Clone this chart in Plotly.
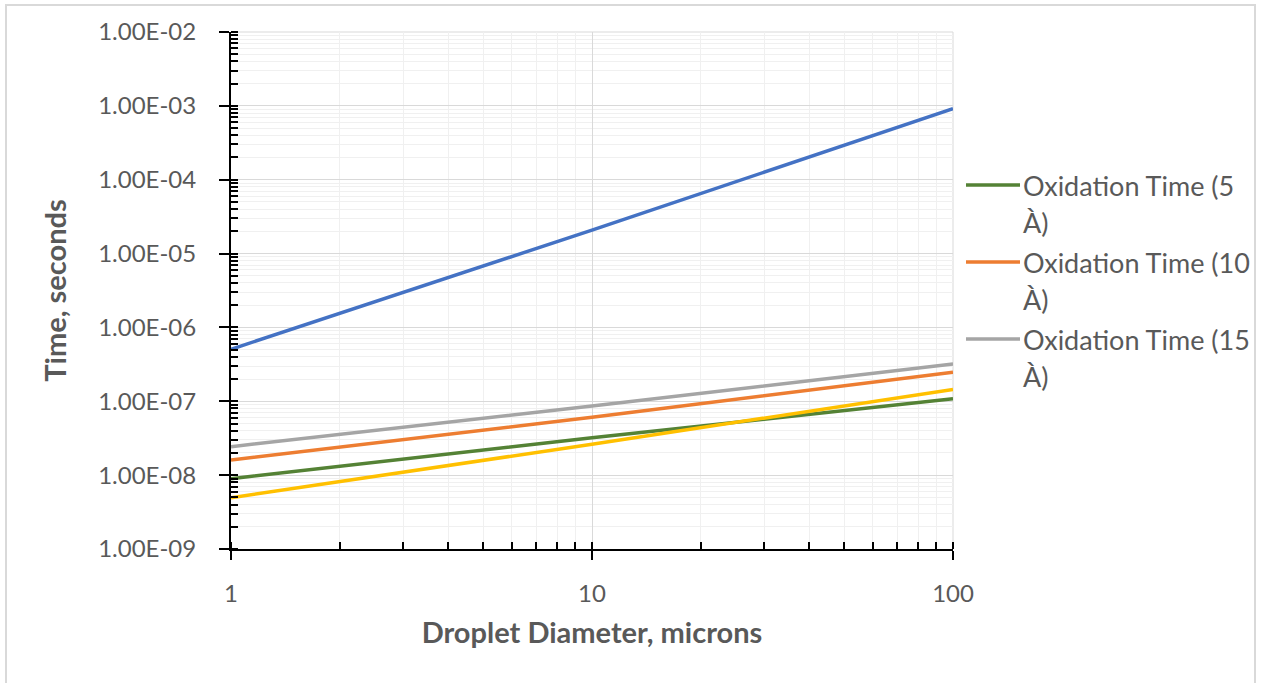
import plotly.graph_objects as go

# ---- data ----
diameter = [1, 10, 100]
blue_series = [5.06e-7, 2.08e-5, 9.16e-4]
ox_5A = [8.95e-9, 3.21e-8, 1.08e-7]
ox_10A = [1.60e-8, 6.07e-8, 2.47e-7]
ox_15A = [2.43e-8, 8.63e-8, 3.20e-7]
yellow_series = [4.95e-9, 2.62e-8, 1.45e-7]

y_tickvals = [1e-9, 1e-8, 1e-7, 1e-6, 1e-5, 1e-4, 1e-3, 1e-2]
y_ticktext = ["1.00E-09", "1.00E-08", "1.00E-07", "1.00E-06",
              "1.00E-05", "1.00E-04", "1.00E-03", "1.00E-02"]
x_tickvals = [1, 10, 100]
x_ticktext = ["1", "10", "100"]

legend_names = ["Oxidation Time (5", "Oxidation Time (10", "Oxidation Time (15"]
legend_second = ["À)", "À)", "À)"]

# ---- styles ----
BLUE = "#4472C4"
ORANGE = "#ED7D31"
GRAY = "#A5A5A5"
YELLOW = "#FFC000"
GREEN = "#548235"
TXT = "#595959"
FONT = "Lato"

fig = go.Figure()
series = [
    (blue_series, BLUE, None),
    (ox_15A, GRAY, "Oxidation Time (15 À)"),
    (ox_10A, ORANGE, "Oxidation Time (10 À)"),
    (ox_5A, GREEN, "Oxidation Time (5 À)"),
    (yellow_series, YELLOW, None),
]
for ys, col, name in series:
    fig.add_trace(go.Scatter(x=diameter, y=ys, mode="lines",
                             line=dict(color=col, width=3.5),
                             name=name or "", showlegend=False))

W, H = 1261, 683
L, R, T, B = 231, 953, 32, 549
pw, ph = R - L, B - T

def px_x(p):
    return (p - L) / pw

def px_y(p):
    return (B - p) / ph

# manual legend (Excel-style wrapped text)
leg_cols = [GREEN, ORANGE, GRAY]
leg_rows = [185, 262, 339]
shapes = []
annotations = []
for col, row, t1, t2 in zip(leg_cols, leg_rows, legend_names, legend_second):
    shapes.append(dict(type="line", xref="paper", yref="paper",
                       x0=px_x(966), x1=px_x(1020), y0=px_y(row), y1=px_y(row),
                       line=dict(color=col, width=3.5)))
    annotations.append(dict(xref="paper", yref="paper", x=px_x(1021), y=px_y(row),
                            xanchor="left", yanchor="middle", showarrow=False,
                            text=t1, font=dict(family=FONT, size=27, color=TXT)))
    annotations.append(dict(xref="paper", yref="paper", x=px_x(1021), y=px_y(row + 37),
                            xanchor="left", yanchor="middle", showarrow=False,
                            text=t2, font=dict(family=FONT, size=27, color=TXT)))

# outer chart border
shapes.append(dict(type="rect", xref="paper", yref="paper",
                   x0=px_x(6), x1=px_x(1255), y0=px_y(700), y1=px_y(5),
                   line=dict(color="#D9D9D9", width=2), layer="below"))
# right/top plot edge gridlines
shapes.append(dict(type="line", xref="paper", yref="paper", x0=1, x1=1, y0=0, y1=1,
                   line=dict(color="#D9D9D9", width=1), layer="below"))
shapes.append(dict(type="line", xref="paper", yref="paper", x0=0, x1=1, y0=1, y1=1,
                   line=dict(color="#D9D9D9", width=1), layer="below"))

fig.update_layout(
    width=W, height=H,
    margin=dict(l=L, r=W - R, t=T, b=H - B, pad=0),
    paper_bgcolor="white", plot_bgcolor="white",
    font=dict(family=FONT, color=TXT),
    shapes=shapes, annotations=annotations,
    showlegend=False,
)

fig.update_xaxes(
    type="log", range=[0, 2],
    tickmode="array", tickvals=x_tickvals, ticktext=x_ticktext,
    tickfont=dict(family=FONT, size=24, color=TXT),
    ticks="outside", ticklen=9, tickwidth=2, tickcolor="black",
    ticklabelstandoff=13,
    showline=True, linecolor="black", linewidth=2,
    showgrid=True, gridcolor="#D9D9D9", gridwidth=1,
    minor=dict(dtick="D1", ticks="inside", ticklen=7, tickwidth=1.5, tickcolor="black",
               showgrid=True, gridcolor="#F0F0F0", gridwidth=1),
    title=dict(text="<b>Droplet Diameter, microns</b>",
               font=dict(family=FONT, size=29, color=TXT), standoff=17),
    zeroline=False,
)
fig.update_yaxes(
    type="log", range=[-9, -2],
    tickmode="array", tickvals=y_tickvals, ticktext=y_ticktext,
    tickfont=dict(family=FONT, size=24, color=TXT),
    ticks="outside", ticklen=10, tickwidth=2, tickcolor="black",
    ticklabelstandoff=18,
    showline=True, linecolor="black", linewidth=2,
    showgrid=True, gridcolor="#D9D9D9", gridwidth=1,
    minor=dict(dtick="D1", ticks="inside", ticklen=7, tickwidth=1.5, tickcolor="black",
               showgrid=True, gridcolor="#F0F0F0", gridwidth=1),
    title=dict(text="<b>Time, seconds</b>",
               font=dict(family=FONT, size=29, color=TXT), standoff=23),
    zeroline=False,
)

fig.write_html("out.html")
